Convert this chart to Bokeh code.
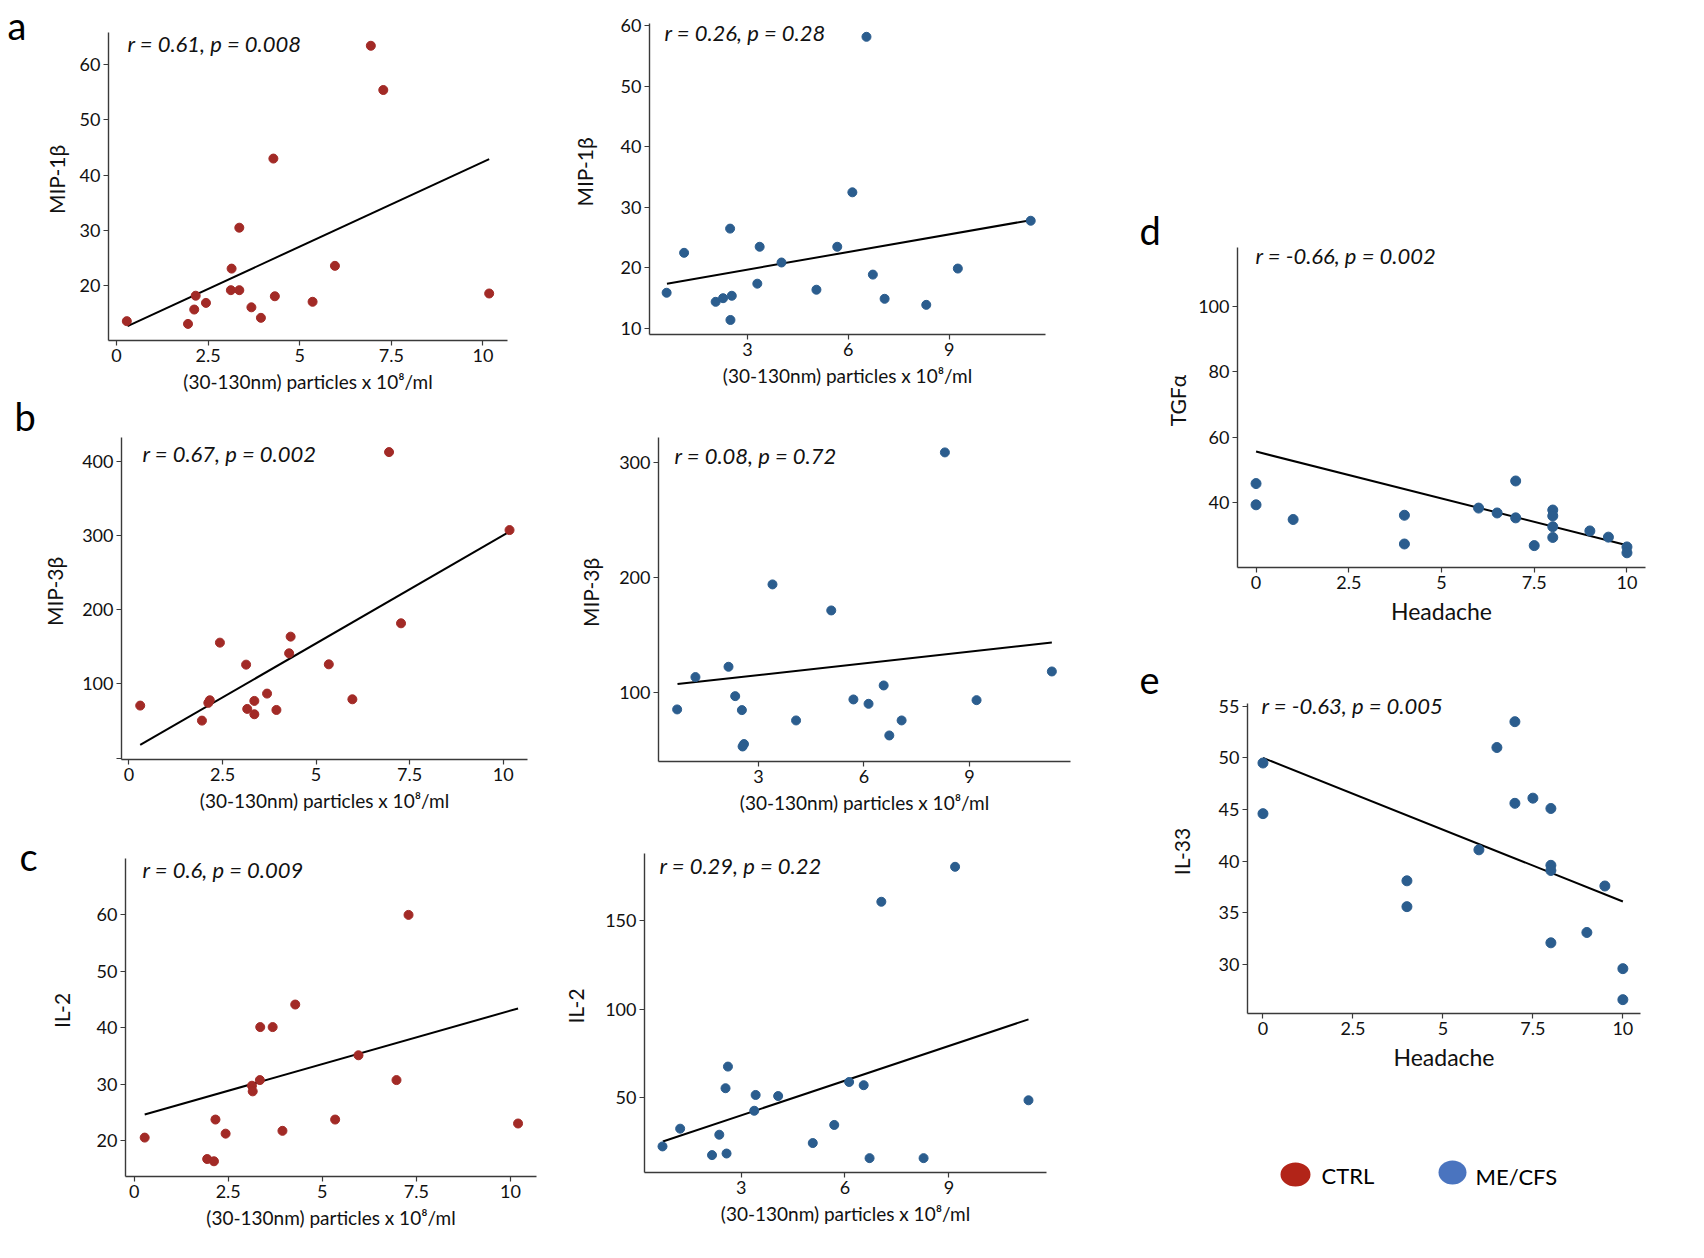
from bokeh.plotting import figure
from bokeh.models import Range1d, FixedTicker, NumeralTickFormatter, Label
from bokeh.layouts import row, column
from bokeh.embed import file_html
from bokeh.resources import INLINE

FONT = "Lato"
RED = "#a22a26"
BLUE = "#2b5d8e"
LEG_RED = "#b22418"
LEG_BLUE = "#4a74bf"

# ---------------- data ----------------
# a: MIP-1beta vs particles
ctrl_particles_a = [0.28, 1.95, 2.12, 2.16, 2.44, 3.14, 3.12, 3.35, 3.35, 3.68, 3.94, 4.28, 4.32, 5.35, 5.96, 6.94, 7.28, 10.17]
ctrl_mip1b = [13.6, 13.1, 15.7, 18.2, 16.9, 23.1, 19.2, 19.2, 30.5, 16.1, 14.2, 43.0, 18.1, 17.1, 23.6, 63.4, 55.4, 18.6]
ctrl_mip1b_fit_x = [0.30, 10.17]
ctrl_mip1b_fit_y = [12.7, 42.9]

me_particles_a = [0.59, 1.11, 2.05, 2.27, 2.53, 2.48, 2.49, 3.29, 3.36, 4.01, 5.05, 5.67, 6.12, 6.54, 6.73, 7.08, 8.32, 9.26, 11.43]
me_mip1b = [15.9, 22.5, 14.4, 15.0, 15.4, 26.5, 11.4, 17.4, 23.5, 20.9, 16.4, 23.5, 32.5, 58.2, 18.9, 14.9, 13.9, 19.9, 27.8]
me_mip1b_fit_x = [0.60, 11.43]
me_mip1b_fit_y = [17.4, 27.9]

# b: MIP-3beta vs particles
ctrl_particles_b = [0.30, 1.95, 2.12, 2.16, 2.43, 3.13, 3.16, 3.35, 3.35, 3.69, 3.94, 4.28, 4.32, 5.34, 5.97, 6.95, 7.27, 10.17]
ctrl_mip3b = [70.8, 50.5, 74.5, 78.0, 155.8, 126.1, 66.3, 77.1, 59.1, 87.0, 64.9, 141.4, 163.9, 126.5, 79.3, 413.1, 181.9, 307.8]
ctrl_mip3b_fit_x = [0.30, 10.17]
ctrl_mip3b_fit_y = [17.7, 305.6]

me_particles_b = [0.69, 1.21, 2.15, 2.34, 2.53, 2.59, 2.55, 3.40, 4.07, 5.07, 5.70, 6.13, 6.56, 6.72, 7.07, 8.30, 9.20, 11.34]
me_mip3b = [84.9, 113.1, 122.1, 96.5, 84.3, 54.7, 52.6, 193.9, 75.3, 171.2, 93.6, 89.8, 105.8, 62.2, 75.3, 309.0, 93.0, 118.0]
me_mip3b_fit_x = [0.70, 11.34]
me_mip3b_fit_y = [107.0, 143.3]

# c: IL-2 vs particles
ctrl_particles_c = [0.28, 1.94, 2.12, 2.16, 2.43, 3.13, 3.15, 3.34, 3.35, 3.68, 3.94, 4.28, 5.34, 5.96, 6.97, 7.29, 10.20]
ctrl_il2 = [20.5, 16.7, 16.3, 23.7, 21.2, 29.7, 28.7, 30.7, 40.1, 40.1, 21.7, 44.1, 23.7, 35.1, 30.7, 60.0, 23.0]
ctrl_il2_fit_x = [0.28, 10.20]
ctrl_il2_fit_y = [24.6, 43.4]

me_particles_c = [0.73, 1.24, 2.16, 2.37, 2.55, 2.58, 2.62, 3.38, 3.42, 4.07, 5.07, 5.69, 6.12, 6.54, 6.71, 7.05, 8.27, 9.18, 11.30]
me_il2 = [22.6, 32.6, 17.7, 29.2, 55.4, 18.6, 67.6, 42.7, 51.6, 51.0, 24.5, 34.7, 58.9, 57.1, 16.0, 160.5, 16.0, 180.2, 48.6]
me_il2_fit_x = [0.74, 11.30]
me_il2_fit_y = [25.4, 94.2]

# d: TGF-alpha vs headache (ME/CFS)
me_headache_d = [0, 0, 1, 4, 4, 6, 6.5, 7, 7, 7.5, 8, 8, 8, 8, 9, 9.5, 10, 10]
me_tgfa = [45.8, 39.3, 34.8, 36.1, 27.3, 38.3, 36.8, 46.6, 35.3, 26.8, 37.7, 35.9, 32.6, 29.3, 31.3, 29.4, 26.4, 24.6]
me_tgfa_fit_x = [0, 10]
me_tgfa_fit_y = [55.6, 26.9]

# e: IL-33 vs headache (ME/CFS)
me_headache_e = [0, 0, 4, 4, 6, 6.5, 7, 7, 7.5, 8, 8, 8, 8, 9, 9.5, 10, 10]
me_il33 = [49.5, 44.6, 38.1, 35.6, 41.1, 51.0, 53.5, 45.6, 46.1, 45.1, 39.6, 39.1, 32.1, 33.1, 37.6, 29.6, 26.6]
me_il33_fit_x = [0, 10]
me_il33_fit_y = [50.0, 36.1]

stats = ["r = 0.61, p = 0.008", "r = 0.26, p = 0.28", "r = 0.67, p = 0.002", "r = 0.08, p = 0.72",
         "r = 0.6, p = 0.009", "r = 0.29, p = 0.22", "r = -0.66, p = 0.002", "r = -0.63, p = 0.005"]
letters = ["a", "b", "c", "d", "e"]
xlabel_particles = "(30-130nm) particles x 10\u2078/ml"
xlabel_headache = "Headache"
legend_labels = ["CTRL", "ME/CFS"]

ticks_x_ctrl = [0, 2.5, 5, 7.5, 10]
ticks_x_me = [3, 6, 9]


def panel(xs, ys, fx, fy, color, xr, yr, xt, yt, xlab, ylab, stat,
          fig_box, frame, extra_top, stat_pos, ylab_standoff,
          tick_size="18px", xlab_size="19px", ylab_size="21px", dot=9, overrides=None):
    L, T, R, B = fig_box
    fl, ft_axis, fr, fb = frame
    ft = ft_axis - extra_top
    y_end = yr[1] + extra_top * (yr[1] - yr[0]) / (fb - ft_axis)
    p = figure(frame_width=fr - fl, frame_height=fb - ft,
               min_border_left=fl - L, min_border_right=R - fr,
               min_border_top=ft - T, min_border_bottom=B - fb,
               x_range=Range1d(xr[0], xr[1]), y_range=Range1d(yr[0], y_end),
               output_backend="svg", toolbar_location=None, tools="")
    p.outline_line_color = None
    p.grid.visible = False
    p.background_fill_color = "white"
    p.border_fill_color = "white"
    for ax in (p.xaxis[0], p.yaxis[0]):
        ax.axis_line_color = "#3a3a3a"
        ax.axis_line_width = 1.4
        ax.major_tick_line_color = "#3a3a3a"
        ax.major_tick_line_width = 1.2
        ax.major_tick_out = 5
        ax.major_tick_in = 0
        ax.minor_tick_line_color = None
        ax.major_label_text_font = FONT
        ax.major_label_text_font_size = tick_size
        ax.major_label_text_color = "#111111"
        ax.major_label_standoff = 3
        ax.axis_label_text_font = FONT
        ax.axis_label_text_font_style = "normal"
        ax.axis_label_text_color = "#111111"
        ax.formatter = NumeralTickFormatter(format="0.[0]")
    p.yaxis[0].bounds = (yr[0], yr[1])
    p.xaxis[0].ticker = FixedTicker(ticks=xt)
    p.yaxis[0].ticker = FixedTicker(ticks=yt)
    p.xaxis[0].axis_label = xlab
    p.yaxis[0].axis_label = ylab
    p.xaxis[0].axis_label_text_font_size = xlab_size
    p.yaxis[0].axis_label_text_font_size = ylab_size
    p.xaxis[0].axis_label_standoff = 5
    p.yaxis[0].axis_label_standoff = ylab_standoff
    if overrides:
        p.yaxis[0].major_label_overrides = overrides

    p.line(fx, fy, line_color="black", line_width=2)
    p.scatter(xs, ys, size=dot, fill_color=color, line_color=color)

    p.add_layout(Label(x=xr[0], y=yr[1], x_offset=stat_pos[0] - fl, y_offset=-(stat_pos[1] - ft_axis),
                       text=stat, text_font=FONT, text_font_style="italic", text_font_size="22px",
                       text_baseline="middle", text_align="left", text_color="#111111"))
    return column(p, spacing=0)


def blank(w, h):
    p = figure(width=w, height=h, min_border=0,
               min_border_left=0, min_border_right=0, min_border_top=0, min_border_bottom=0,
               x_range=Range1d(0, w), y_range=Range1d(h, 0),
               x_axis_location=None, y_axis_location=None,
               output_backend="svg", toolbar_location=None, tools="")
    p.grid.visible = False
    p.outline_line_color = None
    p.background_fill_color = "white"
    p.border_fill_color = "white"
    return p


def letter(p, txt, x, y_mid):
    p.add_layout(Label(x=x, y=y_mid, text=txt, text_font=FONT, text_font_size="38px",
                       text_baseline="middle", text_align="left", text_color="black"))


# layout origin is the page's top-left corner (the page template has no margin)
a1 = panel(ctrl_particles_a, ctrl_mip1b, ctrl_mip1b_fit_x, ctrl_mip1b_fit_y, RED,
           (-0.22, 10.67), (10.1, 65.8), ticks_x_ctrl, [20, 30, 40, 50, 60],
           xlabel_particles, "MIP-1\u03b2", stats[0],
           (39, 0, 550, 403), (108, 32, 507, 340), 14, (127, 43), 8)
a2 = panel(me_particles_a, me_mip1b, me_mip1b_fit_x, me_mip1b_fit_y, BLUE,
           (0.08, 11.87), (9.0, 60.4), ticks_x_me, [10, 20, 30, 40, 50, 60],
           xlabel_particles, "MIP-1\u03b2", stats[1],
           (550, 0, 1090, 403), (649, 23, 1045, 334), 14, (664, 32), 21)
b1 = panel(ctrl_particles_b, ctrl_mip3b, ctrl_mip3b_fit_x, ctrl_mip3b_fit_y, RED,
           (-0.2, 10.65), (-2, 432.8), ticks_x_ctrl, [0, 100, 200, 300, 400],
           xlabel_particles, "MIP-3\u03b2", stats[2],
           (39, 403, 550, 838), (117, 437, 523, 759), 14, (138, 453), 12, overrides={0: ""})
b2 = panel(me_particles_b, me_mip3b, me_mip3b_fit_x, me_mip3b_fit_y, BLUE,
           (0.16, 11.87), (39.5, 322), ticks_x_me, [100, 200, 300],
           xlabel_particles, "MIP-3\u03b2", stats[3],
           (550, 403, 1090, 838), (654, 437, 1066, 761), 14, (670, 455), 13)
c1 = panel(ctrl_particles_c, ctrl_il2, ctrl_il2_fit_x, ctrl_il2_fit_y, RED,
           (-0.23, 10.69), (13.6, 70.0), ticks_x_ctrl, [20, 30, 40, 50, 60],
           xlabel_particles, "IL-2", stats[4],
           (39, 838, 550, 1248), (125, 858, 536, 1176), 14, (142, 869), 20)
c2 = panel(me_particles_c, me_il2, me_il2_fit_x, me_il2_fit_y, BLUE,
           (0.21, 11.82), (7.9, 187.7), ticks_x_me, [50, 100, 150],
           xlabel_particles, "IL-2", stats[5],
           (550, 838, 1090, 1248), (644, 853, 1046, 1172), 14, (659, 865), 14)
d = panel(me_headache_d, me_tgfa, me_tgfa_fit_x, me_tgfa_fit_y, BLUE,
          (-0.5, 10.5), (20.1, 118.1), ticks_x_ctrl, [40, 60, 80, 100],
          xlabel_headache, "TGF\u03b1", stats[6],
          (1158, 0, 1700, 650), (1228, 247, 1636, 567), 14, (1246, 255), 5,
          xlab_size="23px", dot=10)
e = panel(me_headache_e, me_il33, me_il33_fit_x, me_il33_fit_y, BLUE,
          (-0.43, 10.49), (25.26, 55.26), ticks_x_ctrl, [30, 35, 40, 45, 50, 55],
          xlabel_headache, "IL-33", stats[7],
          (1158, 650, 1700, 1110), (1243, 703, 1636, 1013), 14, (1257, 705), 22,
          xlab_size="23px", dot=10)

# panel letters (outside the plot frames), positions in page pixels
left_strip = blank(39, 1248)
letter(left_strip, letters[0], 7, 24)
letter(left_strip, letters[1], 14, 415)
letter(left_strip, letters[2], 19, 855)
right_strip = blank(68, 1248)
letter(right_strip, letters[3], 45, 229)
letter(right_strip, letters[4], 45, 679)

# legend (x measured from page x=1158, y from page y=1110)
leg = blank(542, 138)
leg.ellipse(x=[133, 290], y=[64, 62], width=[30, 28], height=[24, 24],
            fill_color=[LEG_RED, LEG_BLUE], line_color=None)
leg.add_layout(Label(x=159, y=65, text=legend_labels[0], text_font=FONT, text_font_size="22px",
                     text_baseline="middle", text_color="black"))
leg.add_layout(Label(x=313, y=66, text=legend_labels[1], text_font=FONT, text_font_size="22px",
                     text_baseline="middle", text_color="black"))

left = column(row(a1, a2, spacing=0), row(b1, b2, spacing=0), row(c1, c2, spacing=0), spacing=0)
right = column(d, e, column(leg), spacing=0)
layout = row(column(left_strip), left, column(right_strip), right, spacing=0)

open("out.html", "w").write(file_html(layout, INLINE))
